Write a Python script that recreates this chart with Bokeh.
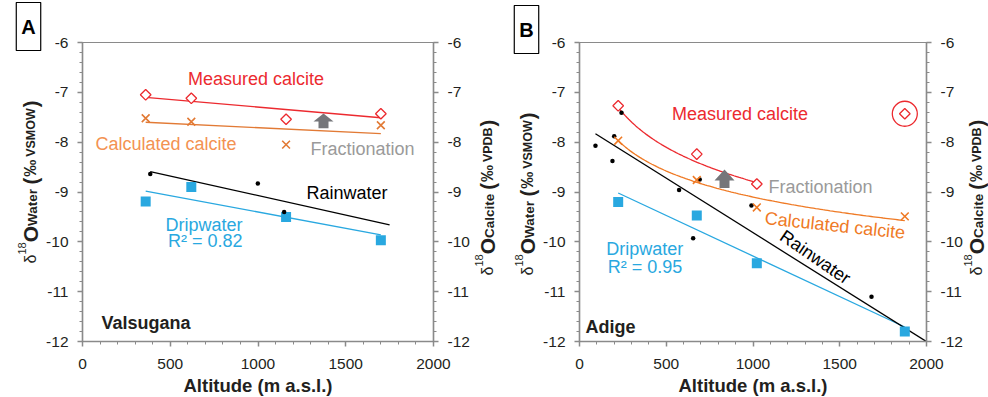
import numpy as np
from math import pi
from bokeh.plotting import figure
from bokeh.models import Range1d, LinearAxis, SingleIntervalTicker, Label, GridBox
from bokeh.layouts import row
from bokeh.embed import file_html
from bokeh.resources import INLINE

# ---------------- data ----------------
x_ticks = [0, 500, 1000, 1500, 2000]
x_tick_labels = ["0", "500", "1000", "1500", "2000"]
y_ticks = [-12, -11, -10, -9, -8, -7, -6]
y_tick_labels = ["-12", "-11", "-10", "-9", "-8", "-7", "-6"]

# Panel A - Valsugana
a_cave_alt = [360, 620, 1160, 1700]
a_measured = [-7.05, -7.12, -7.54, -7.43]
a_calculated = [-7.52, -7.59, -8.05, -7.66]
a_drip = [-9.19, -8.90, -9.50, -9.97]
a_rain_alt = [386, 999, 1149]
a_rain = [-8.64, -8.83, -9.40]
# linear fits: [slope per m, intercept], altitude span of the fit
a_measured_fit = [-0.000306, -6.99]
a_calculated_fit = [-0.000172, -7.538]
a_drip_fit = [-0.000657, -8.744]
a_rain_fit = [-0.000784, -8.287]
a_fit_span = [360, 1700]
a_rain_fit_span = [386, 1750]
a_drip_r2 = "R\u00b2 = 0.82"

# Panel B - Adige
b_cave_alt = [223, 676, 1022, 1875]
b_measured = [-7.27, -8.24, -8.84, -7.43]
b_measured_excluded = [False, False, False, True]
b_calculated = [-7.97, -8.76, -9.31, -9.49]
b_drip = [-9.20, -9.47, -10.43, -11.80]
b_rain_alt = [92, 190, 200, 242, 574, 655, 693, 991, 1683]
b_rain = [-8.07, -8.38, -7.88, -7.41, -8.96, -9.93, -8.75, -9.27, -11.10]
# logarithmic fits: [a, b] for a*ln(alt)+b
b_measured_fit = [-0.99, -1.95]
b_measured_span = [223, 1022]
b_calculated_fit = [-0.753, -3.899]
b_calculated_span = [223, 1875]
# linear fits
b_drip_fit = [-0.001628, -8.657]
b_drip_span = [223, 1875]
b_rain_fit = [-0.002186, -7.63]
b_rain_span = [92, 2000]
b_drip_r2 = "R\u00b2 = 0.95"

x_title = "Altitude (m a.s.l.)"

# ---------------- style ----------------
FONT = "Liberation Sans"
TXT = "#231F20"
AX = "#8a8a8a"
RED = "#EC2A2F"
ORANGE_A = "#F39252"
ORANGE_A_MK = "#E27A35"
ORANGE_B = "#EF7A25"
BLUE = "#29A8E0"
GRAY_ARROW = "#75767A"
GRAY_TXT = "#9A9A9A"

REG_W = {"\u03b4": 0.556, "1": 0.556, "8": 0.556}
BOLD_W = {"O": 0.778, "W": 0.944, "a": 0.556, "t": 0.333, "e": 0.556, "r": 0.389,
          " ": 0.278, "(": 0.333, "\u2030": 1.0, "V": 0.667, "S": 0.667, "M": 0.833,
          "P": 0.667, "D": 0.722, "B": 0.722, ")": 0.333, "C": 0.722, "l": 0.278,
          "c": 0.556, "i": 0.278}


def text_w(s, size, bold):
    tbl = BOLD_W if bold else REG_W
    return sum(tbl.get(c, 0.556) for c in s) * size


def make_fig(width, left, right, top, bottom):
    p = figure(width=width, height=397, output_backend="svg", toolbar_location=None,
               x_range=Range1d(0, 2000), y_range=Range1d(-12, -6), title=None,
               min_border_left=left, min_border_right=right,
               min_border_top=top, min_border_bottom=bottom)
    p.xgrid.visible = False
    p.ygrid.visible = False
    p.outline_line_color = AX
    p.outline_line_width = 1.2
    p.background_fill_color = "white"
    p.border_fill_color = "white"
    rax = LinearAxis()
    p.add_layout(rax, "right")
    xo = {t: l for t, l in zip(x_ticks, x_tick_labels)}
    yo = {t: l for t, l in zip(y_ticks, y_tick_labels)}
    for ax, ticker, ov in ((p.xaxis[0], SingleIntervalTicker(interval=500, num_minor_ticks=5), xo),
                           (p.yaxis[0], SingleIntervalTicker(interval=1, num_minor_ticks=5), yo),
                           (rax, SingleIntervalTicker(interval=1, num_minor_ticks=5), yo)):
        ax.ticker = ticker
        ax.major_label_overrides = ov
        ax.axis_line_color = AX
        ax.axis_line_width = 1.5
        ax.major_tick_line_color = AX
        ax.major_tick_line_width = 1.5
        ax.minor_tick_line_color = AX
        ax.minor_tick_line_width = 1
        ax.major_tick_in = 0
        ax.major_tick_out = 5
        ax.minor_tick_in = 0
        ax.minor_tick_out = 3
        ax.major_label_text_font = FONT
        ax.major_label_text_font_size = "15.5px"
        ax.major_label_text_color = TXT
        ax.major_label_standoff = 9
    p.xaxis[0].major_label_standoff = 12
    return p


def add_text(p, x, y, text, color, size=18, align="center", bold=False, angle=0.0):
    p.add_layout(Label(x=x, y=y, text=text, text_color=color, text_font=FONT,
                       text_font_size=f"{size}px", text_align=align, text_baseline="middle",
                       text_font_style="bold" if bold else "normal", angle=angle))


def block_arrow(p, fx, fy, cx, tip_py, base_py, head_len):
    xs = [cx - 5, cx + 5, cx + 5, cx + 10, cx, cx - 10, cx - 5]
    hy = tip_py + head_len
    ys = [base_py, base_py, hy, hy, tip_py, hy, hy]
    p.patch([fx(v) for v in xs], [fy(v) for v in ys], color=GRAY_ARROW, line_width=0)


# ---------------- panel A ----------------
pa = make_fig(506, 82, 73, 42, 56)


def ax_(px):
    return (px - 82) * 2000 / 351


def ay_(py):
    return -6 - (py - 38) * 6 / 303


xa = np.linspace(a_fit_span[0], a_fit_span[1], 2)
pa.line(xa, a_measured_fit[0] * xa + a_measured_fit[1], color=RED, line_width=1.3)
pa.line(xa, a_calculated_fit[0] * xa + a_calculated_fit[1], color=ORANGE_A_MK, line_width=1.3)
pa.line(xa, a_drip_fit[0] * xa + a_drip_fit[1], color=BLUE, line_width=1.3)
xr = np.linspace(a_rain_fit_span[0], a_rain_fit_span[1], 2)
pa.line(xr, a_rain_fit[0] * xr + a_rain_fit[1], color="black", line_width=1.3)

pa.scatter(a_cave_alt, a_drip, marker="square", size=10, fill_color=BLUE, line_color=None)
pa.scatter(a_rain_alt, a_rain, marker="circle", size=4.5, fill_color="black", line_color=None)
pa.scatter(a_cave_alt, a_calculated, marker="x", size=11, line_color=ORANGE_A_MK, line_width=1.6)
pa.scatter(a_cave_alt, a_measured, marker="square", angle=pi / 4, size=7.5,
           fill_color="white", line_color=RED, line_width=1.3)

block_arrow(pa, ax_, ay_, 323, 110, 125, 8)
add_text(pa, ax_(255.5), ay_(75), "Measured calcite", RED)
add_text(pa, ax_(165.5), ay_(140.7), "Calculated calcite", ORANGE_A)
add_text(pa, ax_(310), ay_(146), "Fractionation", GRAY_TXT, align="left")
add_text(pa, ax_(346.5), ay_(191), "Rainwater", "black")
add_text(pa, ax_(242), ay_(223), "Dripwater", BLUE, align="right")
add_text(pa, ax_(242), ay_(239), a_drip_r2, BLUE, align="right")
add_text(pa, ax_(101), ay_(322.7), "Valsugana", TXT, align="left", bold=True)

# ---------------- panel B ----------------
pb = make_fig(482, 73, 62, 42, 56)


def bx_(px):
    return (px - 579) * 2000 / 347


def by_(py):
    return -6 - (py - 42) * 6 / 299


xm = np.linspace(b_measured_span[0], b_measured_span[1], 80)
pb.line(xm, b_measured_fit[0] * np.log(xm) + b_measured_fit[1], color=RED, line_width=1.3)
xc = np.linspace(b_calculated_span[0], b_calculated_span[1], 120)
pb.line(xc, b_calculated_fit[0] * np.log(xc) + b_calculated_fit[1], color=ORANGE_B, line_width=1.3)
xd = np.linspace(b_drip_span[0], b_drip_span[1], 2)
pb.line(xd, b_drip_fit[0] * xd + b_drip_fit[1], color=BLUE, line_width=1.3)
xrb = np.linspace(b_rain_span[0], b_rain_span[1], 2)
pb.line(xrb, b_rain_fit[0] * xrb + b_rain_fit[1], color="black", line_width=1.3)

pb.scatter(b_cave_alt, b_drip, marker="square", size=10, fill_color=BLUE, line_color=None)
pb.scatter(b_rain_alt, b_rain, marker="circle", size=4.5, fill_color="black", line_color=None)
pb.scatter(b_cave_alt, b_calculated, marker="x", size=11, line_color=ORANGE_B, line_width=1.6)
pb.scatter(b_cave_alt, b_measured, marker="square", angle=pi / 4, size=7.5,
           fill_color="white", line_color=RED, line_width=1.3)
ex_x = [a for a, e in zip(b_cave_alt, b_measured_excluded) if e]
ex_y = [v for v, e in zip(b_measured, b_measured_excluded) if e]
pb.scatter(ex_x, ex_y, marker="circle", size=25, fill_color=None, line_color=RED, line_width=1.3)

block_arrow(pb, bx_, by_, 724, 169, 187.5, 11)
add_text(pb, bx_(739.6), by_(113.3), "Measured calcite", RED)
add_text(pb, bx_(768), by_(186.7), "Fractionation", GRAY_TXT, align="left")
add_text(pb, bx_(834.5), by_(225), "Calculated calcite", ORANGE_B, angle=-0.105)
add_text(pb, bx_(814.8), by_(256.7), "Rainwater", "black", angle=-0.60)
add_text(pb, bx_(682.7), by_(248.3), "Dripwater", BLUE, align="right")
add_text(pb, bx_(681.7), by_(266.7), b_drip_r2, BLUE, align="right")
add_text(pb, bx_(585), by_(326), "Adige", TXT, align="left", bold=True)

# ---------------- overlay for texts outside the plot frames (pixel coordinates) ----------------
ov = figure(width=988, height=397, output_backend="svg", toolbar_location=None,
            x_range=Range1d(0, 988), y_range=Range1d(397, 0), title=None,
            x_axis_type=None, y_axis_type=None,
            min_border_left=0, min_border_right=0, min_border_top=0, min_border_bottom=0)
ov.outline_line_color = None
ov.background_fill_color = None
ov.border_fill_color = None
ov.grid.visible = False


def vertical_title(base_px, start_py, sub):
    # (text, font px, bold, shift across the baseline, gap before)
    pieces = [("\u03b4", 16, False, 0, 0), ("18", 11, False, -9, 0), ("O", 21, True, 0, 0),
              (sub[0], 13.5, True, 1.5, 0), ("(", 20, True, 0, 4), ("\u2030", 17, True, 0, 1),
              (sub[1], 12.5, True, 0, 3), (")", 20, True, 0, 1)]
    y = start_py
    for text, size, bold, shift, gap in pieces:
        y -= gap
        ov.add_layout(Label(x=base_px + shift, y=y, text=text, angle=pi / 2,
                            text_align="left", text_baseline="alphabetic", text_font=FONT,
                            text_font_size=f"{size}px", text_color=TXT,
                            text_font_style="bold" if bold else "normal"))
        y -= text_w(text, size, bold)


def panel_box(cx, cy, letter):
    ov.add_layout(Label(x=cx, y=cy, text=letter, text_font=FONT, text_font_size="20px",
                        text_font_style="bold", text_color="black", text_align="center",
                        text_baseline="middle", border_line_color="black", border_line_width=1.2,
                        background_fill_color="white", padding=(5, 13)))


vertical_title(30, 263, ("Water", "VSMOW"))
vertical_title(487, 275, ("Calcite", "VPDB"))
vertical_title(527, 275, ("Water", "VSMOW"))
vertical_title(976, 275, ("Calcite", "VPDB"))
panel_box(28, 26, "A")
panel_box(526, 29, "B")
for cx in (257.5, 752.5):
    ov.add_layout(Label(x=cx, y=385, text=x_title, text_font=FONT, text_font_size="18.5px",
                        text_font_style="bold", text_color=TXT, text_align="center",
                        text_baseline="middle"))

panels = row(pa, pb, spacing=0)
layout = GridBox(children=[(panels, 0, 0), (ov, 0, 0)])
open("out.html", "w").write(file_html(layout, INLINE))
